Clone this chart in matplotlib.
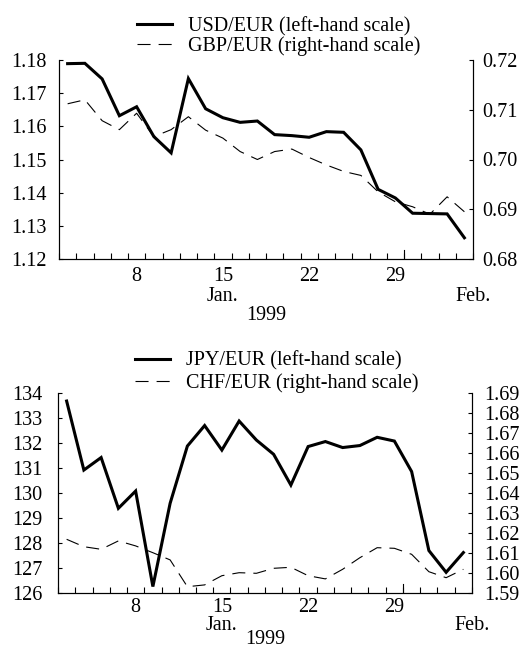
import numpy as np
import pandas as pd
import matplotlib
matplotlib.use('Agg')
import matplotlib.pyplot as plt

plt.rcParams['font.family'] = ['Liberation Serif', 'DejaVu Serif']
plt.rcParams['font.size'] = 14.5
plt.rcParams['lines.scale_dashes'] = False

# business days shown on the x axis (4 Jan - 4 Feb 1999)
dates = pd.bdate_range('1999-01-04', '1999-02-04')

usd = [1.1789, 1.1790, 1.1743, 1.1632, 1.1659, 1.1569, 1.1520, 1.1744,
       1.1653, 1.1626, 1.1612, 1.1616, 1.1575, 1.1572, 1.1567, 1.1584,
       1.1582, 1.1529, 1.1410, 1.1384, 1.1338, 1.1337, 1.1336, 1.1264]
gbp = [0.7112, 0.7120, 0.7078, 0.7060, 0.7093, 0.7046, 0.7060, 0.7086,
       0.7059, 0.7043, 0.7016, 0.7000, 0.7016, 0.7021, 0.7004, 0.6989,
       0.6976, 0.6968, 0.6935, 0.6915, 0.6905, 0.6890, 0.6925, 0.6895]
jpy = [133.69, 130.93, 131.43, 129.40, 130.09, 126.27, 129.60, 131.89,
       132.71, 131.73, 132.89, 132.13, 131.56, 130.33, 131.87, 132.07,
       131.83, 131.91, 132.24, 132.09, 130.87, 127.71, 126.84, 127.63]
chf = [1.6170, 1.6133, 1.6120, 1.6162, 1.6137, 1.6103, 1.6067, 1.5933,
       1.5942, 1.5988, 1.6003, 1.6000, 1.6025, 1.6030, 1.5988, 1.5972,
       1.6020, 1.6078, 1.6128, 1.6125, 1.6095, 1.6008, 1.5978, 1.6020]

day_labels = ['8', '15', '22', '29']
month_labels = ['Jan.', 'Feb.']
year_label = '1999'

top_left_ticks = [1.12, 1.13, 1.14, 1.15, 1.16, 1.17, 1.18]
top_right_ticks = [0.68, 0.69, 0.70, 0.71, 0.72]
bot_left_ticks = list(range(126, 135))
bot_right_ticks = [1.59, 1.60, 1.61, 1.62, 1.63, 1.64, 1.65, 1.66, 1.67, 1.68, 1.69]

W, H = 526, 650
fig = plt.figure(figsize=(W / 100, H / 100), dpi=100)

x = np.arange(len(dates))
day_pos = [list(dates.day).index(int(d)) for d in day_labels]
jan_pos = day_pos[1]
month_edge = x[dates.month == 1][-1] + 0.5


def panel(px, left_vals, right_vals, names, lticks, rticks, lfmt, rfmt,
          lpad, rpad, xpad, text_off, leg_xy, leg_space):
    l, r, t, b = px
    ax = fig.add_axes([l / W, 1 - b / H, (r - l) / W, (b - t) / H])
    ax2 = ax.twinx()
    h1, = ax.plot(x, left_vals, color='black', lw=2.2, solid_joinstyle='miter')
    h2, = ax2.plot(x, right_vals, color='black', lw=0.8, dashes=(9.4, 5.8))

    ax.set_xlim(-0.5, len(x) - 0.5)
    ax.set_ylim(lticks[0], lticks[-1])
    ax2.set_ylim(rticks[0], rticks[-1])
    ax.set_yticks(lticks, [lfmt.format(v) for v in lticks])
    ax2.set_yticks(rticks, [rfmt.format(v) for v in rticks])
    ax.set_xticks(day_pos, day_labels)
    ax.set_xticks(np.arange(-0.5, len(x)), minor=True)

    for a in (ax, ax2):
        a.spines['top'].set_visible(False)
        for s in a.spines.values():
            s.set_linewidth(0.8)
    ax.tick_params(axis='y', direction='in', length=3, width=0.8, pad=lpad)
    ax2.tick_params(axis='y', direction='in', length=3, width=0.8, pad=rpad)
    ax.tick_params(axis='x', which='major', length=0, pad=xpad)
    ax.tick_params(axis='x', which='minor', direction='in', length=4, width=0.8)
    # longer tick at the month boundary
    ax.axvline(month_edge, ymin=0, ymax=9 / (b - t), color='black', lw=0.8)

    tr = ax.get_xaxis_transform()
    ax.annotate(month_labels[0], xy=(jan_pos, 0), xycoords=tr,
                xytext=(0, -text_off[0]), textcoords='offset points',
                ha='center', va='center')
    ax.annotate(month_labels[1], xy=(len(x) - 0.5, 0), xycoords=tr,
                xytext=(0, -text_off[0]), textcoords='offset points',
                ha='center', va='center')
    ax.annotate(year_label, xy=(0.5, 0), xycoords='axes fraction',
                xytext=(0, -text_off[1]), textcoords='offset points',
                ha='center', va='center')

    fig.legend([h1, h2], names, loc='upper left',
               bbox_to_anchor=(leg_xy[0] / W, 1 - leg_xy[1] / H),
               frameon=False, borderpad=0, borderaxespad=0,
               handlelength=1.75, handletextpad=0.8, labelspacing=leg_space)
    return ax


panel((59, 473, 60, 259), usd, gbp,
      ['USD/EUR (left-hand scale)', 'GBP/EUR (right-hand scale)'],
      top_left_ticks, top_right_ticks, '{:.2f}', '{:.2f}',
      9, 6.5, 5.9, (27.3, 40.5), (137, 17.0), 0.0)

panel((58, 472, 393.3, 593.3), jpy, chf,
      ['JPY/EUR (left-hand scale)', 'CHF/EUR (right-hand scale)'],
      bot_left_ticks, bot_right_ticks, '{:d}', '{:.2f}',
      11, 9, 3.5, (23.3, 33.3), (135, 351.5), 0.12)

fig.savefig('out.png', dpi=100)
